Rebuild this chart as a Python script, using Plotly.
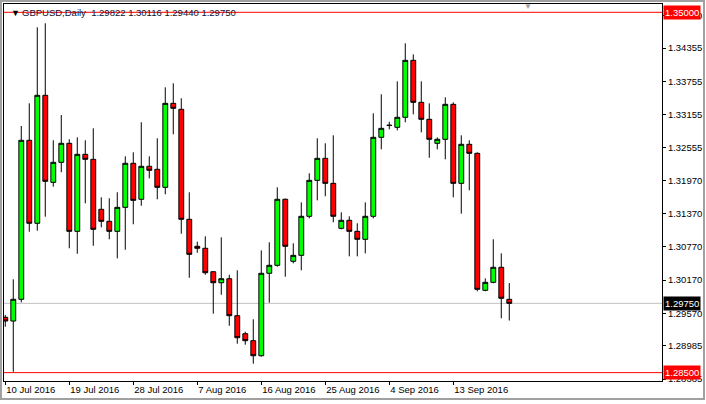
import plotly.graph_objects as go

# daily GBPUSD bars (MT4 style, Sunday bars included)
opens = [1.29498, 1.29431, 1.29823, 1.32691, 1.31194, 1.33503, 1.31933, 1.32294, 1.32637, 1.31049,
         1.32438, 1.32348, 1.31446, 1.31230, 1.31049, 1.31482, 1.32276, 1.31627, 1.32222, 1.32168,
         1.31843, 1.33358, 1.33250, 1.31266, 1.30779, 1.30743, 1.30320, 1.30122, 1.30194, 1.29527,
         1.29202, 1.29076, 1.28805, 1.30292, 1.30436, 1.31627, 1.30508, 1.30616, 1.31320, 1.31969,
         1.32366, 1.31915, 1.31103, 1.31248, 1.31049, 1.30905, 1.31320, 1.32745, 1.32961, 1.32925,
         1.33106, 1.34134, 1.33376, 1.33070, 1.32637, 1.32709, 1.33340, 1.31915, 1.32619, 1.32456,
         1.29985, 1.30129, 1.30400, 1.29822]
highs = [1.29539, 1.30183, 1.32949, 1.33358, 1.34729, 1.34802, 1.32691, 1.33147, 1.32709, 1.32745,
         1.32691, 1.32907, 1.31663, 1.31645, 1.31753, 1.32402, 1.32474, 1.33016, 1.32402, 1.32727,
         1.33647, 1.33719, 1.33449, 1.31753, 1.30862, 1.30959, 1.30330, 1.30941, 1.30266, 1.30346,
         1.29238, 1.29462, 1.30706, 1.30851, 1.31843, 1.31640, 1.30833, 1.31572, 1.32096, 1.32727,
         1.32637, 1.32781, 1.31392, 1.31320, 1.31194, 1.31572, 1.33178, 1.33521, 1.33026, 1.33755,
         1.34441, 1.34242, 1.33755, 1.33358, 1.32745, 1.33467, 1.33376, 1.32781, 1.32691, 1.32474,
         1.30201, 1.30905, 1.30652, 1.30116]
lows = [1.29328, 1.28516, 1.29768, 1.31042, 1.31060, 1.31313, 1.31854, 1.32114, 1.30743, 1.30645,
        1.31554, 1.30789, 1.31121, 1.30905, 1.30562, 1.30717, 1.31176, 1.31511, 1.32005, 1.31627,
        1.31717, 1.32799, 1.31006, 1.30212, 1.30663, 1.30266, 1.29563, 1.29905, 1.29346, 1.29022,
        1.29004, 1.28661, 1.28787, 1.29761, 1.30411, 1.30230, 1.30472, 1.30346, 1.31284, 1.31608,
        1.31681, 1.31212, 1.31085, 1.30598, 1.30598, 1.30652, 1.31284, 1.32529, 1.32889, 1.32871,
        1.33016, 1.33160, 1.32835, 1.32377, 1.32529, 1.32348, 1.31663, 1.31367, 1.31789, 1.29967,
        1.29967, 1.30111, 1.29480, 1.29440]
closes = [1.29431, 1.29823, 1.32691, 1.31194, 1.33503, 1.31951, 1.32294, 1.32637, 1.31049, 1.32438,
          1.32348, 1.31085, 1.31230, 1.31049, 1.31482, 1.32276, 1.31608, 1.32222, 1.32150, 1.31843,
          1.33358, 1.33268, 1.31266, 1.30634, 1.30743, 1.30302, 1.30122, 1.30194, 1.29527, 1.29130,
          1.29076, 1.28805, 1.30292, 1.30436, 1.31627, 1.30779, 1.30616, 1.31320, 1.31969, 1.32366,
          1.31915, 1.31320, 1.31248, 1.31049, 1.30905, 1.31320, 1.32745, 1.32907, 1.32961, 1.33106,
          1.34134, 1.33376, 1.33070, 1.32709, 1.32709, 1.33340, 1.31915, 1.32619, 1.32456, 1.30003,
          1.30129, 1.30400, 1.29841, 1.29750]

date_tick_pos = [0, 8, 16, 24, 32, 40, 48, 56]
date_tick_text = ["10 Jul 2016", "19 Jul 2016", "28 Jul 2016", "7 Aug 2016",
                  "16 Aug 2016", "25 Aug 2016", "4 Sep 2016", "13 Sep 2016"]
price_ticks = [1.34940, 1.34355, 1.33755, 1.33155, 1.32555, 1.31970, 1.31370,
               1.30770, 1.30170, 1.29570, 1.28985, 1.28385]
levels = [1.35000, 1.28500]
last_price = closes[-1]

W, H = 706, 404
L, R, T, B = 4, 44, 4, 23
PW, PH = W - L - R, H - T - B


def px(x):
    return (x - L) / PW


def py(y):
    return 1 - (y - T) / PH


FONT = "Liberation Sans, Arial, sans-serif"

fig = go.Figure()
fig.add_trace(go.Candlestick(
    x=list(range(len(opens))), open=opens, high=highs, low=lows, close=closes,
    increasing={"fillcolor": "#00FF00", "line": {"color": "#000000", "width": 1}},
    decreasing={"fillcolor": "#FF0000", "line": {"color": "#000000", "width": 1}},
    whiskerwidth=0, showlegend=False,
))

shapes = [
    {"type": "line", "xref": "paper", "yref": "y", "x0": 0, "x1": 1, "y0": last_price, "y1": last_price,
     "line": {"color": "#C0C0C0", "width": 1}, "layer": "below"},
]
for lv in levels:
    shapes.append({"type": "line", "xref": "paper", "yref": "y", "x0": 0, "x1": 1, "y0": lv, "y1": lv,
                   "line": {"color": "#FF0000", "width": 1}})
# outer window frame
shapes.append({"type": "rect", "xref": "paper", "yref": "paper", "x0": px(1), "x1": px(704),
               "y0": py(399), "y1": py(1), "line": {"color": "#A0A0A0", "width": 2}})

annotations = [
    {"xref": "paper", "yref": "paper", "x": px(9), "y": py(12.5), "xanchor": "left", "yanchor": "middle",
     "showarrow": False, "font": {"family": FONT, "size": 9, "color": "#000000"}, "text": "▼"},
    {"xref": "paper", "yref": "paper", "x": px(20), "y": py(12.5), "xanchor": "left", "yanchor": "middle",
     "showarrow": False, "font": {"family": FONT, "size": 9.5, "color": "#101030"},
     "text": "GBPUSD,Daily  %.5f %.5f %.5f %.5f" % (opens[-1], highs[-1], lows[-1], closes[-1])},
    {"xref": "paper", "yref": "paper", "x": px(528), "y": py(6.5), "xanchor": "center", "yanchor": "middle",
     "showarrow": False, "font": {"family": FONT, "size": 8, "color": "#A0A0A0"}, "text": "▼"},
]
for lv in levels:
    annotations.append({"xref": "paper", "yref": "y", "x": 1, "y": lv, "xanchor": "left", "yanchor": "middle",
                        "xshift": 1, "showarrow": False, "bgcolor": "#FF0000", "borderpad": 1,
                        "font": {"family": FONT, "size": 9.5, "color": "#FFFFFF"}, "text": "%.5f" % lv})
annotations.append({"xref": "paper", "yref": "y", "x": 1, "y": last_price, "xanchor": "left", "yanchor": "middle",
                    "xshift": 1, "showarrow": False, "bgcolor": "#000000", "borderpad": 1,
                    "font": {"family": FONT, "size": 9.5, "color": "#FFFFFF"}, "text": "%.5f" % last_price})

fig.update_layout(
    width=W, height=H,
    paper_bgcolor="#FFFFFF", plot_bgcolor="#FFFFFF",
    margin={"l": L, "r": R, "t": T, "b": B},
    font={"family": FONT, "size": 9.5, "color": "#000000"},
    boxgap=0.22, boxgroupgap=0.22,
    xaxis={"range": [-0.16, 82.09], "rangeslider": {"visible": False}, "showgrid": False, "zeroline": False,
           "tickmode": "array", "tickvals": date_tick_pos, "ticktext": date_tick_text,
           "ticks": "outside", "ticklen": 3, "tickcolor": "#000000", "ticklabelposition": "outside right",
           "showline": True, "linecolor": "#000000", "linewidth": 1, "mirror": True},
    yaxis={"range": [1.28349, 1.35150], "side": "right", "showgrid": False, "zeroline": False,
           "tickmode": "array", "tickvals": price_ticks, "ticktext": ["%.5f" % v for v in price_ticks],
           "ticks": "outside", "ticklen": 3, "tickcolor": "#000000", "automargin": False,
           "showline": True, "linecolor": "#000000", "linewidth": 1, "mirror": True},
    shapes=shapes, annotations=annotations,
)

fig.write_html("out.html", config={"displayModeBar": False},
               post_script="document.body.style.margin='0';")
